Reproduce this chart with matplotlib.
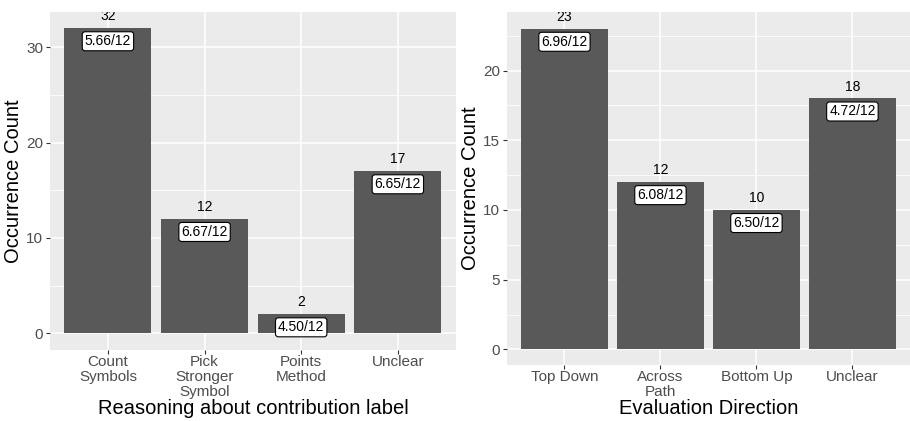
import matplotlib.pyplot as plt
from matplotlib.ticker import MultipleLocator

plt.rcParams["font.family"] = ["Liberation Sans", "DejaVu Sans"]

# Left panel data
reason_labels = ["Count\nSymbols", "Pick\nStronger\nSymbol", "Points\nMethod", "Unclear"]
reason_counts = [32, 12, 2, 17]
reason_scores = ["5.66/12", "6.67/12", "4.50/12", "6.65/12"]

# Right panel data
direction_labels = ["Top Down", "Across\nPath", "Bottom Up", "Unclear"]
direction_counts = [23, 12, 10, 18]
direction_scores = ["6.96/12", "6.08/12", "6.50/12", "4.72/12"]

BG = "#EBEBEB"
BAR = "#595959"
TICK_COL = "#4D4D4D"


def draw_panel(ax, labels, counts, scores, xlabel, ylim, major, minor):
    ax.set_facecolor(BG)
    x = list(range(1, len(labels) + 1))
    ax.bar(x, counts, width=0.9, color=BAR, zorder=3)
    for xi, c, s in zip(x, counts, scores):
        ax.annotate(str(c), (xi, c), xytext=(0, 8.5), textcoords="offset points",
                    ha="center", va="center", fontsize=10, color="black",
                    zorder=5, annotation_clip=False, clip_on=True)
        ax.annotate(s, (xi, c), xytext=(0, -9.4), textcoords="offset points",
                    ha="center", va="center", fontsize=10, color="black", zorder=5,
                    bbox=dict(boxstyle="round,pad=0.18,rounding_size=0.2",
                              fc="white", ec="black", lw=0.8))
    ax.set_xlim(0.4, len(labels) + 0.6)
    ax.set_ylim(*ylim)
    ax.set_xticks(x)
    ax.set_xticklabels(labels, fontsize=11, color=TICK_COL, linespacing=1.1)
    ax.yaxis.set_major_locator(MultipleLocator(major))
    ax.yaxis.set_minor_locator(MultipleLocator(minor))
    ax.tick_params(axis="y", labelsize=11, labelcolor=TICK_COL, color="#333333",
                   length=3, width=0.8, pad=2)
    ax.tick_params(axis="y", which="minor", length=0)
    ax.tick_params(axis="x", color="#333333", length=3, width=0.8, pad=0.5)
    ax.grid(True, which="major", color="white", lw=1.1, zorder=0)
    ax.grid(True, which="minor", axis="y", color="white", lw=0.55, zorder=0)
    ax.set_axisbelow(True)
    for sp in ax.spines.values():
        sp.set_visible(False)
    ax.set_xlabel(xlabel, fontsize=14.5, color="black", labelpad=0)
    ax.set_ylabel("Occurrence Count", fontsize=14.5, color="black", labelpad=2)


fig = plt.figure(figsize=(9.1, 4.21), dpi=100)
ax1 = fig.add_axes([0.0549, 0.1686, 0.446, 0.8029])
ax2 = fig.add_axes([0.557, 0.133, 0.443, 0.8385])

draw_panel(ax1, reason_labels, reason_counts, reason_scores,
           "Reasoning about contribution label", (-1.75, 33.7), 10, 5)
draw_panel(ax2, direction_labels, direction_counts, direction_scores,
           "Evaluation Direction", (-1.12, 24.2), 5, 2.5)

fig.savefig("out.png", dpi=100)
